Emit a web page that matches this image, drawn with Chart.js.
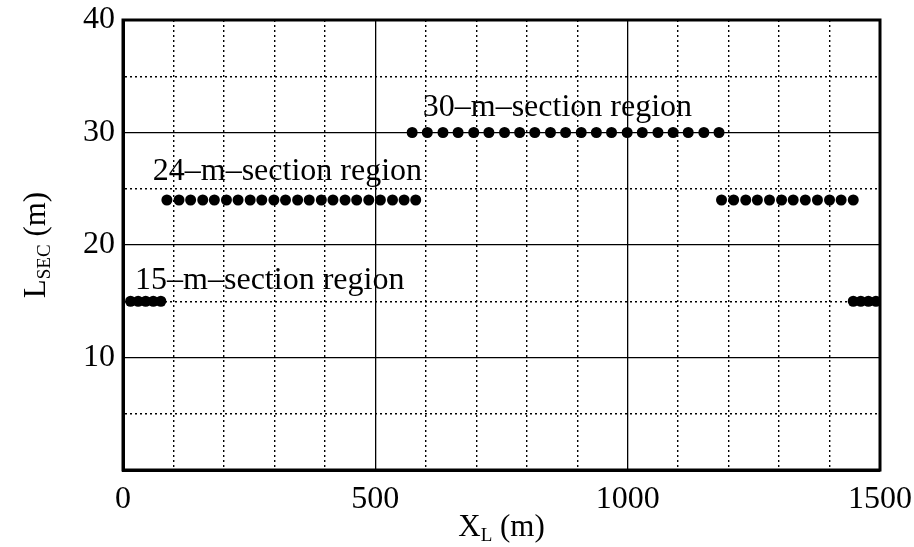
<!DOCTYPE html>
<html><head><meta charset="utf-8">
<script src="https://cdn.jsdelivr.net/npm/chart.js@4.4.1/dist/chart.umd.min.js"></script>
<style>html,body{margin:0;padding:0;background:#fff;}#wrap{width:914px;height:547px;}</style>
</head><body><div id="wrap"><canvas id="c" width="914" height="547"></canvas></div>
<script>
// ---- data ----
const xMajorTicks = [0, 500, 1000, 1500];
const yMajorTicks = [10, 20, 30, 40];

const sec15LeftX  = [15, 30, 45, 60, 75];
const sec15LeftL  = 15;
const sec24LeftX  = [87, 111, 134, 158, 181, 205, 228, 252, 275, 299, 322, 346, 369, 393, 416, 440, 463, 487, 510, 534, 557, 580];
const sec24LeftL  = 24;
const sec30X      = [573, 603, 634, 664, 695, 725, 756, 786, 816, 847, 877, 908, 938, 968, 999, 1029, 1060, 1090, 1120, 1151, 1181];
const sec30L      = 30;
const sec24RightX = [1186, 1210, 1234, 1257, 1281, 1305, 1328, 1352, 1376, 1400, 1423, 1447];
const sec24RightL = 24;
const sec15RightX = [1447, 1462, 1477, 1492];
const sec15RightL = 15;

const regionLabels = ['15\u2013m\u2013section region', '24\u2013m\u2013section region', '30\u2013m\u2013section region'];
const regionLabelX = [24, 59, 594];
const regionLabelY = [16.8, 26.5, 32.2];

const xTitle = ['X', 'L', ' (m)'];
const yTitle = ['L', 'SEC', ' (m)'];

// ---- chart ----
const FONT = '"Liberation Serif", "Times New Roman", serif';
function pts(xs, L) { return xs.map(x => ({ x: x, y: L })); }
function ds(xs, L) {
  return { data: pts(xs, L), showLine: false, pointRadius: 5.5, pointHoverRadius: 5.5,
           pointBackgroundColor: '#000', pointBorderWidth: 0, borderColor: '#000' };
}

const labelPlugin = {
  id: 'labels',
  afterDraw(chart) {
    const ctx = chart.ctx, xs = chart.scales.x, ys = chart.scales.y;
    ctx.save();
    ctx.fillStyle = '#000';
    ctx.font = '32px ' + FONT;
    ctx.textAlign = 'left';
    ctx.textBaseline = 'middle';
    for (let i = 0; i < regionLabels.length; i++) {
      ctx.fillText(regionLabels[i], xs.getPixelForValue(regionLabelX[i]), ys.getPixelForValue(regionLabelY[i]));
    }
    function drawSub(parts, cx, cy) {
      const big = '31px ' + FONT, small = '19px ' + FONT;
      ctx.font = big; const w0 = ctx.measureText(parts[0]).width;
      ctx.font = small; const w1 = ctx.measureText(parts[1]).width;
      ctx.font = big; const w2 = ctx.measureText(parts[2]).width;
      let x = cx - (w0 + w1 + w2) / 2;
      ctx.textAlign = 'left'; ctx.textBaseline = 'alphabetic';
      ctx.font = big; ctx.fillText(parts[0], x, cy); x += w0;
      ctx.font = small; ctx.fillText(parts[1], x, cy + 5); x += w1;
      ctx.font = big; ctx.fillText(parts[2], x, cy);
    }
    const ca = chart.chartArea;
    drawSub(xTitle, (ca.left + ca.right) / 2, 536);
    ctx.save();
    ctx.translate(45, (ca.top + ca.bottom) / 2);
    ctx.rotate(-Math.PI / 2);
    drawSub(yTitle, 0, 0);
    ctx.restore();
    ctx.strokeStyle = '#000'; ctx.lineWidth = 3;
    ctx.strokeRect(ca.left, ca.top, ca.right - ca.left, ca.bottom - ca.top);
    ctx.restore();
  }
};

new Chart(document.getElementById('c'), {
  type: 'scatter',
  data: { datasets: [
    ds(sec15LeftX, sec15LeftL), ds(sec24LeftX, sec24LeftL), ds(sec30X, sec30L),
    ds(sec24RightX, sec24RightL), ds(sec15RightX, sec15RightL)
  ] },
  options: {
    responsive: false, animation: false, devicePixelRatio: 1,
    layout: { padding: { top: 20, right: 34, left: 0, bottom: 0 } },
    plugins: { legend: { display: false }, tooltip: { enabled: false } },
    scales: {
      x: {
        type: 'linear', min: 0, max: 1500,
        afterFit: s => { s.height = 77; s.paddingLeft = 0; s.paddingRight = 0; },
        afterBuildTicks: s => { s.ticks = []; for (let v = 0; v <= 1500; v += 100) s.ticks.push({ value: v }); },
        ticks: { autoSkip: false, maxRotation: 0, padding: 10, color: '#000',
                 font: { family: FONT, size: 32 },
                 callback: v => xMajorTicks.includes(v) ? String(v) : '' },
        grid: { color: '#000', drawTicks: false,
                lineWidth: c => (c.tick && c.tick.value % 500 === 0) ? 1.3 : 1.4 },
        border: { display: true, color: '#000', width: 3,
                  dash: c => (c.tick && c.tick.value % 500 !== 0) ? [2, 3] : [] }
      },
      y: {
        type: 'linear', min: 0, max: 40,
        afterFit: s => { s.width = 123; s.paddingTop = 0; s.paddingBottom = 0; },
        afterBuildTicks: s => { s.ticks = []; for (let v = 0; v <= 40; v += 5) s.ticks.push({ value: v }); },
        ticks: { autoSkip: false, padding: 8, color: '#000',
                 font: { family: FONT, size: 32 },
                 callback: v => yMajorTicks.includes(v) ? String(v) : '' },
        grid: { color: '#000', drawTicks: false,
                lineWidth: c => (c.tick && c.tick.value % 10 === 0) ? 1.3 : 1.4 },
        border: { display: true, color: '#000', width: 3,
                  dash: c => (c.tick && c.tick.value % 10 !== 0) ? [2, 3] : [] }
      }
    }
  },
  plugins: [labelPlugin]
});
</script></body></html>
